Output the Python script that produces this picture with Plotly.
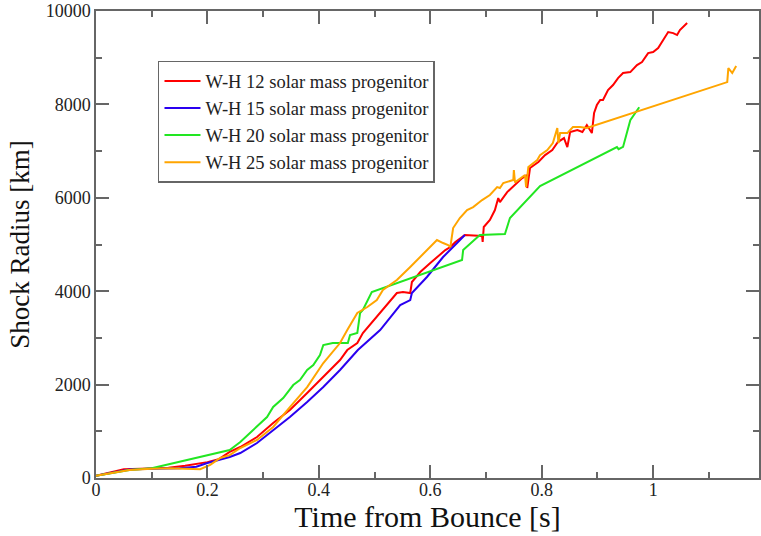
import plotly.graph_objects as go

# ---- data ----
t12 = [0, 0.02, 0.05, 0.08, 0.1, 0.13, 0.16, 0.2, 0.22, 0.24, 0.259, 0.289, 0.318, 0.348, 0.379,
       0.408, 0.438, 0.451, 0.469, 0.479, 0.51, 0.54, 0.551, 0.564, 0.567, 0.582, 0.6, 0.612,
       0.627, 0.636, 0.645, 0.662, 0.693, 0.694, 0.696, 0.707, 0.716, 0.722, 0.725, 0.738, 0.752,
       0.765, 0.773, 0.774, 0.779, 0.794, 0.806, 0.819, 0.829, 0.840, 0.846, 0.851, 0.864, 0.873,
       0.881, 0.890, 0.892, 0.894, 0.899, 0.905, 0.910, 0.919, 0.928, 0.937, 0.946, 0.959, 0.971,
       0.980, 0.991, 1.0, 1.009, 1.018, 1.027, 1.036, 1.043, 1.048, 1.061]
r12 = [50, 110, 190, 200, 210, 220, 260, 340, 400, 560, 664, 878, 1178, 1456, 1820,
       2162, 2526, 2740, 2890, 3104, 3533, 3961, 3982, 3961, 4196, 4410, 4603, 4732,
       4881, 4946, 5053, 5203, 5181, 5053, 5374, 5524, 5738, 5995, 5909, 6123, 6273,
       6423, 6487, 6209, 6637, 6766, 6915, 7022, 7194, 7279, 7087, 7408, 7451, 7408,
       7558, 7386, 7601, 7815, 7986, 8093, 8093, 8307, 8414, 8564, 8671, 8692, 8842,
       8907, 9099, 9121, 9206, 9378, 9549, 9527, 9485, 9592, 9742]

t15 = [0, 0.03, 0.06, 0.1, 0.15, 0.18, 0.2, 0.24, 0.259, 0.289, 0.318, 0.348, 0.379, 0.408,
       0.438, 0.47, 0.51, 0.528, 0.546, 0.564, 0.567, 0.594, 0.623, 0.648, 0.662]
r15 = [50, 120, 180, 200, 210, 240, 320, 450, 535, 749, 1028, 1306, 1627, 1948,
       2312, 2740, 3169, 3447, 3704, 3811, 3961, 4304, 4732, 5031, 5203]

t20 = [0, 0.03, 0.06, 0.1, 0.24, 0.259, 0.276, 0.294, 0.307, 0.318, 0.336, 0.354, 0.366, 0.379,
       0.39, 0.402, 0.408, 0.425, 0.452, 0.456, 0.469, 0.474, 0.479, 0.495, 0.657, 0.659, 0.689,
       0.734, 0.743, 0.797, 0.935, 0.938, 0.946, 0.959, 0.975]
r20 = [50, 110, 170, 210, 600, 771, 963, 1178, 1306, 1520, 1713, 1991, 2098, 2312,
       2419, 2633, 2848, 2890, 2890, 3060, 3104, 3533, 3597, 3982, 4667, 4881, 5203,
       5224, 5567, 6252, 7087, 7040, 7090, 7660, 7940]

t25 = [0, 0.03, 0.06, 0.1, 0.133, 0.16, 0.187, 0.205, 0.223, 0.24, 0.259, 0.289, 0.318, 0.348,
       0.379, 0.408, 0.438, 0.451, 0.469, 0.487, 0.504, 0.515, 0.54, 0.564, 0.582, 0.6, 0.612,
       0.623, 0.632, 0.636, 0.639, 0.641, 0.653, 0.666, 0.677, 0.693, 0.707, 0.72, 0.725, 0.731,
       0.749, 0.75, 0.752, 0.77, 0.772, 0.776, 0.792, 0.797, 0.81, 0.82, 0.828, 0.83, 0.833,
       0.846, 0.856, 0.869, 0.881, 1.133, 1.135, 1.142, 1.149]
r25 = [50, 110, 170, 200, 210, 200, 190, 280, 430, 490, 642, 814, 1092, 1520,
       1948, 2462, 2890, 3169, 3533, 3661, 3811, 4025, 4239, 4518, 4732, 4946, 5096,
       5031, 4989, 4946, 5160, 5352, 5567, 5738, 5802, 5952, 6059, 6230, 6209, 6316,
       6380, 6594, 6330, 6487, 6230, 6658, 6808, 6915, 7022, 7172, 7494, 7172, 7386,
       7386, 7515, 7515, 7494, 8478, 8778, 8671, 8821]

names = ["W-H 12 solar mass progenitor", "W-H 15 solar mass progenitor",
         "W-H 20 solar mass progenitor", "W-H 25 solar mass progenitor"]
colors = ["#ff0000", "#2a00f0", "#22e622", "#ffa500"]

FONT = "Liberation Serif"

fig = go.Figure()
for t, r, n, c in zip([t12, t15, t20, t25], [r12, r15, r20, r25], names, colors):
    fig.add_trace(go.Scatter(x=t, y=r, mode="lines", name=n,
                             line=dict(color=c, width=2)))

tick_font = dict(family=FONT, size=18, color="#222222")
axis_common = dict(showline=True, mirror="ticks", linecolor="#666666", linewidth=1.5,
                   ticks="inside", ticklen=13, tickwidth=1.5, tickcolor="#666666",
                   showgrid=False, zeroline=False, tickfont=tick_font)

fig.update_xaxes(range=[0, 1.19], dtick=0.2, tick0=0, ticklabelstandoff=-5,
                 minor=dict(ticks="inside", ticklen=6, dtick=0.1, tickcolor="#666666", tickwidth=1.5),
                 title=dict(text="Time from Bounce [s]", font=dict(family=FONT, size=30, color="#111"),
                            standoff=6),
                 **axis_common)
fig.update_yaxes(range=[0, 10000], dtick=2000, tick0=0, tickformat="d",
                 minor=dict(ticks="inside", ticklen=6, dtick=1000, tickcolor="#666666", tickwidth=1.5),
                 title=dict(text="Shock Radius [km]", font=dict(family=FONT, size=27, color="#111"),
                            standoff=8),
                 **axis_common)

fig.update_layout(
    width=761, height=536,
    font=dict(family=FONT, size=18, color="#222222"),
    margin=dict(l=96, r=2, t=11, b=58, autoexpand=False),
    plot_bgcolor="white", paper_bgcolor="white",
    legend=dict(x=0.0935, y=0.893, xanchor="left", yanchor="top",
                bordercolor="#666666", borderwidth=1.5, bgcolor="white",
                font=dict(family=FONT, size=18.5, color="#222"),
                tracegroupgap=0, itemwidth=36),
    showlegend=True,
)

fig.write_html("out.html", config={"displayModeBar": False},
               post_script="document.body.style.margin='0';")
